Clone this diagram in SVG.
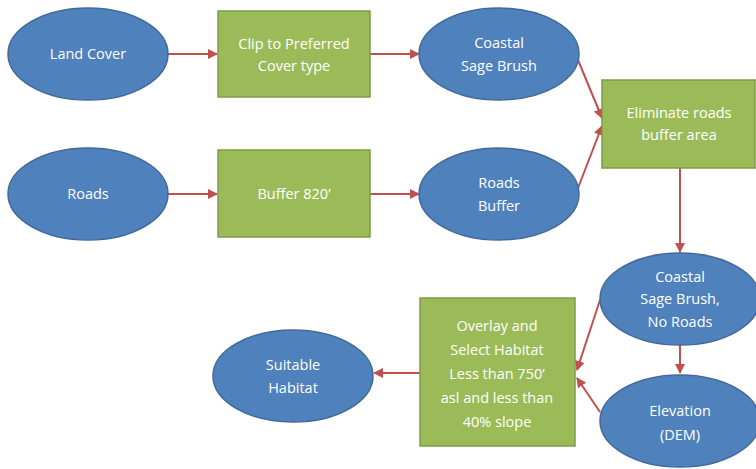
<svg xmlns="http://www.w3.org/2000/svg" width="756" height="469" viewBox="0 0 756 469">
<defs>
<style>
.ell{fill:#4F81BD;stroke:#41699A;stroke-width:1.5}
.box{fill:#9BBB59;stroke:#7F9A48;stroke-width:1.5}
.t{fill:#FFFFFF;font-family:"Open Sans","Liberation Sans",sans-serif;font-size:14.5px;text-anchor:middle}
.c{stroke:#C0504D;stroke-width:2;fill:none;marker-end:url(#ah)}
</style>
<marker id="ah" viewBox="0 0 10 10" refX="9" refY="5" markerWidth="5" markerHeight="5" orient="auto" markerUnits="strokeWidth">
<path d="M0,0 L10,5 L0,10 z" fill="#C0504D"/>
</marker>
</defs>
<rect width="756" height="469" fill="#FFFFFF"/>
<g id="connectors">
<line class="c" x1="168" y1="54" x2="217" y2="54"/>
<line class="c" x1="370" y1="54" x2="419" y2="54"/>
<line class="c" x1="168" y1="194" x2="217" y2="194"/>
<line class="c" x1="370" y1="194" x2="419" y2="194"/>
<line class="c" x1="578" y1="60" x2="602" y2="118"/>
<line class="c" x1="578" y1="188" x2="602" y2="126"/>
<line class="c" x1="680" y1="168" x2="680" y2="252"/>
<line class="c" x1="680" y1="345" x2="680" y2="373"/>
<line class="c" x1="600" y1="300" x2="577" y2="370"/>
<line class="c" x1="600" y1="412" x2="577" y2="378"/>
<line class="c" x1="420" y1="373" x2="374" y2="373"/>
</g>
<g id="land-cover"><ellipse class="ell" cx="88" cy="54" rx="80" ry="46"/><text class="t" x="88" y="59">Land Cover</text></g>
<g id="clip"><rect class="box" x="218" y="11" width="152" height="86"/><text class="t" x="294" y="49">Clip to Preferred</text><text class="t" x="294" y="71">Cover type</text></g>
<g id="coastal-sage-brush"><ellipse class="ell" cx="499" cy="54" rx="80" ry="46"/><text class="t" x="499" y="48">Coastal</text><text class="t" x="499" y="71">Sage Brush</text></g>
<g id="roads"><ellipse class="ell" cx="88" cy="194" rx="80" ry="46"/><text class="t" x="88" y="199">Roads</text></g>
<g id="buffer"><rect class="box" x="218" y="150" width="152" height="87"/><text class="t" x="294" y="199">Buffer 820’</text></g>
<g id="roads-buffer"><ellipse class="ell" cx="499" cy="194" rx="80" ry="46"/><text class="t" x="499" y="188">Roads</text><text class="t" x="499" y="211">Buffer</text></g>
<g id="eliminate"><rect class="box" x="602" y="80" width="153" height="88"/><text class="t" x="679" y="118">Eliminate roads</text><text class="t" x="679" y="140">buffer area</text></g>
<g id="csb-no-roads"><ellipse class="ell" cx="680" cy="299" rx="80" ry="46"/><text class="t" x="680" y="282">Coastal</text><text class="t" x="680" y="304">Sage Brush,</text><text class="t" x="680" y="327">No Roads</text></g>
<g id="elevation"><ellipse class="ell" cx="680" cy="421" rx="80" ry="46"/><text class="t" x="680" y="416">Elevation</text><text class="t" x="680" y="440">(DEM)</text></g>
<g id="overlay"><rect class="box" x="420" y="298" width="155" height="148"/><text class="t" x="497" y="331">Overlay and</text><text class="t" x="497" y="355">Select Habitat</text><text class="t" x="497" y="379">Less than 750’</text><text class="t" x="497" y="403">asl and less than</text><text class="t" x="497" y="427">40% slope</text></g>
<g id="suitable-habitat"><ellipse class="ell" cx="293" cy="376" rx="80" ry="46"/><text class="t" x="293" y="370">Suitable</text><text class="t" x="293" y="393">Habitat</text></g>
</svg>
